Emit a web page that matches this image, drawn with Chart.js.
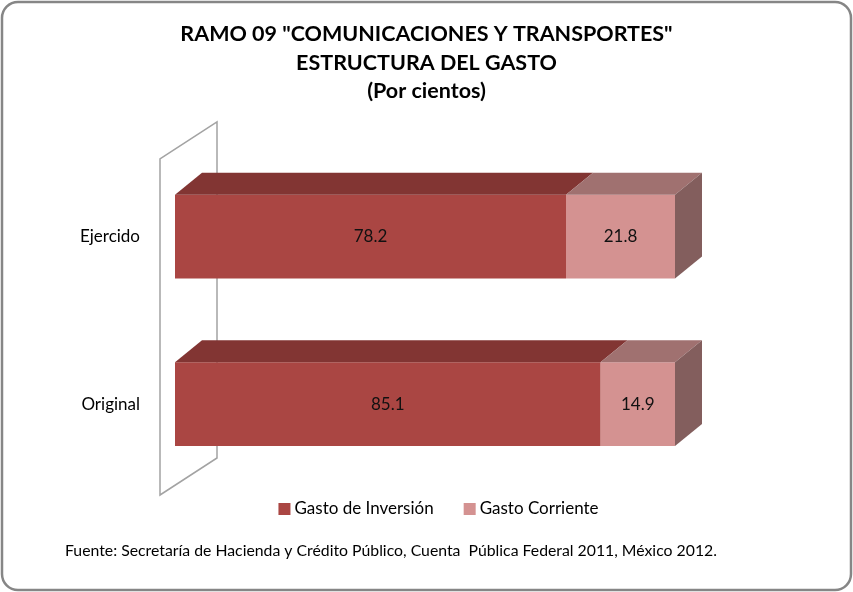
<!DOCTYPE html>
<html>
<head>
<meta charset="utf-8">
<script src="https://cdn.jsdelivr.net/npm/chart.js@4"></script>
<style>
  html, body { margin: 0; padding: 0; background: #fff; }
  #wrap { width: 853px; height: 592px; }
</style>
</head>
<body>
<div id="wrap"><canvas id="myChart"></canvas></div>
<script>
const categories = ['Ejercido', 'Original'];
const inversion = [78.2, 85.1];
const corriente = [21.8, 14.9];
const seriesNames = ['Gasto de Inversión', 'Gasto Corriente'];
const titleLines = ['RAMO 09 "COMUNICACIONES Y TRANSPORTES"', 'ESTRUCTURA DEL GASTO', '(Por cientos)'];
const footnote = 'Fuente: Secretaría de Hacienda y Crédito Público, Cuenta  Pública Federal 2011, México 2012.';

const FONT = 'Lato, "Open Sans", sans-serif';
const frontColors = ['#AA4643', '#D49291'];
const topColors = ['#823533', '#A07170'];
const sideColor = '#835E5D';

// 3d look: bar depth and back wall depth
const DX = 27, DY = -22;
const WX = 57, WY = -37;

const threeD = {
  id: 'threeD',
  beforeDraw(chart) {
    const ctx = chart.ctx;
    ctx.save();
    ctx.fillStyle = '#fff';
    ctx.fillRect(0, 0, chart.width, chart.height);
    ctx.strokeStyle = '#868686';
    ctx.lineWidth = 2.5;
    ctx.beginPath();
    ctx.roundRect(2, 2, chart.width - 4, chart.height - 4, 16);
    ctx.stroke();
    ctx.restore();
  },
  beforeDatasetsDraw(chart) {
    // side wall behind the bars
    const {ctx, chartArea: a} = chart;
    const x0 = a.left - 15, y0 = a.top + 6, y1 = a.bottom + 7;
    ctx.save();
    ctx.strokeStyle = '#a3a3a3';
    ctx.lineWidth = 1.5;
    ctx.beginPath();
    ctx.moveTo(x0, y0);
    ctx.lineTo(x0 + WX, y0 + WY);
    ctx.lineTo(x0 + WX, y1 + WY);
    ctx.lineTo(x0, y1);
    ctx.closePath();
    ctx.stroke();
    ctx.restore();
  },
  afterDatasetsDraw(chart) {
    const ctx = chart.ctx;
    const n = chart.data.datasets.length;
    ctx.save();
    chart.data.labels.forEach((lab, i) => {
      let last = null;
      for (let d = 0; d < n; d++) {
        const bar = chart.getDatasetMeta(d).data[i];
        const p = bar.getProps(['x', 'y', 'base', 'height'], true);
        const top = p.y - p.height / 2;
        ctx.fillStyle = topColors[d];
        ctx.beginPath();
        ctx.moveTo(p.base, top);
        ctx.lineTo(p.x, top);
        ctx.lineTo(p.x + DX, top + DY);
        ctx.lineTo(p.base + DX, top + DY);
        ctx.closePath();
        ctx.fill();
        last = p;
      }
      const t = last.y - last.height / 2, b = last.y + last.height / 2;
      ctx.fillStyle = sideColor;
      ctx.beginPath();
      ctx.moveTo(last.x, t);
      ctx.lineTo(last.x + DX, t + DY);
      ctx.lineTo(last.x + DX, b + DY);
      ctx.lineTo(last.x, b);
      ctx.closePath();
      ctx.fill();

      // value labels
      ctx.fillStyle = '#111';
      ctx.font = '17px ' + FONT;
      ctx.textAlign = 'center';
      ctx.textBaseline = 'middle';
      for (let d = 0; d < n; d++) {
        const p = chart.getDatasetMeta(d).data[i].getProps(['x', 'y', 'base'], true);
        ctx.fillText(chart.data.datasets[d].data[i].toFixed(1), (p.base + p.x) / 2, p.y);
      }
    });
    ctx.restore();
  },
  afterDraw(chart) {
    const ctx = chart.ctx;
    ctx.save();
    // legend
    ctx.font = '17px ' + FONT;
    ctx.textBaseline = 'middle';
    ctx.textAlign = 'left';
    const box = 12, gapText = 4, gapItem = 30;
    const items = chart.data.datasets.map(ds => ({text: ds.label, color: ds.backgroundColor, w: box + gapText + ctx.measureText(ds.label).width}));
    const total = items.reduce((s, it) => s + it.w, 0) + gapItem * (items.length - 1);
    let x = chart.width / 2 + 12 - total / 2;
    const ly = 509;
    items.forEach(it => {
      ctx.fillStyle = it.color;
      ctx.fillRect(x, ly - box / 2, box, box);
      ctx.fillStyle = '#000';
      ctx.fillText(it.text, x + box + gapText, ly);
      x += it.w + gapItem;
    });
    // source note
    ctx.font = '15.8px ' + FONT;
    ctx.fillText(footnote, 65, 551);
    ctx.restore();
  }
};

new Chart(document.getElementById('myChart'), {
  type: 'bar',
  data: {
    labels: categories,
    datasets: [
      { label: seriesNames[0], data: inversion, backgroundColor: frontColors[0], borderWidth: 0 },
      { label: seriesNames[1], data: corriente, backgroundColor: frontColors[1], borderWidth: 0 }
    ]
  },
  options: {
    indexAxis: 'y',
    responsive: true,
    maintainAspectRatio: false,
    animation: false,
    layout: { padding: { left: 0, right: 0, top: 0, bottom: 104 } },
    datasets: { bar: { barPercentage: 0.5, categoryPercentage: 1 } },
    scales: {
      x: { stacked: true, min: 0, max: 100, display: false },
      y: {
        stacked: true,
        grid: { display: false, drawTicks: false },
        border: { display: false },
        ticks: { color: '#000', padding: 35, font: { family: FONT, size: 17 } },
        afterFit: s => { s.width = 175; }
      },
      // empty right axis only keeps room for the depth of the bars
      yRight: {
        type: 'category',
        position: 'right',
        display: true,
        grid: { display: false, drawTicks: false },
        border: { display: false },
        ticks: { display: false },
        afterFit: s => { s.width = 178; }
      }
    },
    plugins: {
      legend: { display: false },
      tooltip: { enabled: false },
      title: {
        display: true,
        text: titleLines,
        color: '#000',
        font: { family: FONT, size: 21.5, weight: 'bold', lineHeight: 1.33 },
        padding: { top: 20, bottom: 47 }
      }
    }
  },
  plugins: [threeD]
});
</script>
</body>
</html>
